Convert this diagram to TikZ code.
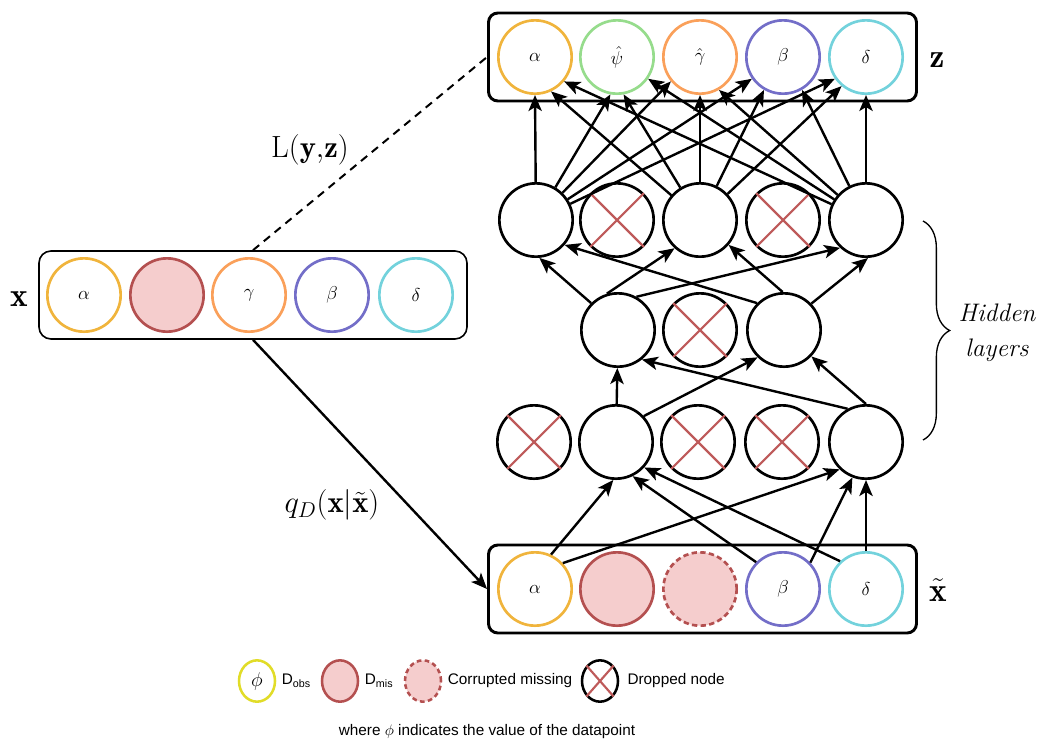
\RequirePackage{fix-cm}
\documentclass[tikz,border=0pt]{standalone}
\usepackage{amsmath, amssymb}
\usepackage{fontspec}
\newfontfamily\legendfont{Liberation Sans}
\usetikzlibrary{decorations.pathreplacing,positioning,arrows.meta,shapes.geometric}

\definecolor{colal}{RGB}{240,180,60}
\definecolor{colpsi}{RGB}{150,220,140}
\definecolor{colgam}{RGB}{250,160,90}
\definecolor{colbet}{RGB}{115,110,200}
\definecolor{coldel}{RGB}{115,210,220}
\definecolor{misred}{RGB}{180,80,80}
\definecolor{mispink}{RGB}{245,205,205}
\definecolor{crossred}{RGB}{190,90,90}
\definecolor{obsyel}{RGB}{225,220,40}

\tikzset{
  unit/.style={circle, draw, line width=2pt, minimum size=55pt, inner sep=0pt, font=\fontsize{14}{16}\selectfont},
  misunit/.style={unit, draw=misred, fill=mispink},
  corrunit/.style={misunit, dash pattern={on 4pt off 2.5pt}},
  rowbox/.style={draw, line width=2.2pt, rounded corners=7pt, minimum width=321pt, minimum height=66pt, inner sep=0pt},
  conn/.style={line width=1.8pt, -{Stealth[length=12pt,width=10pt,inset=3pt]}},
  cross/.style={draw=crossred, line width=1.6pt},
  legunit/.style={ellipse, line width=1.9pt, minimum width=27pt, minimum height=31pt, inner sep=0pt},
  legtext/.style={inner sep=0pt, font=\legendfont\fontsize{11.5}{14}\selectfont},
  biglabel/.style={font=\fontsize{25}{28}\selectfont},
}

\begin{document}
\begin{tikzpicture}[x=0.75pt,y=0.75pt,yscale=-1,xscale=1]
\useasboundingbox (0,0) rectangle (1042,744);

%Rows of the data
\node[rowbox] (zbox) at (702.5,57) {};
\node[rowbox, line width=1.2pt, rounded corners=9pt] (xbox) at (253,295) {};
\node[rowbox] (tbox) at (702.5,589) {};

%Output row
\node[unit, draw=colal] (zal) at (535,57) {$\alpha$};
\node[unit, draw=colpsi] (zpsi) at (617,57) {$\hat{\psi}$};
\node[unit, draw=colgam] (zgam) at (700,57) {$\hat{\gamma}$};
\node[unit, draw=colbet] (zbet) at (783,57) {$\beta$};
\node[unit, draw=coldel] (zdel) at (866,57) {$\delta$};

%Input row x
\node[unit, draw=colal] (xal) at (84,295) {$\alpha$};
\node[misunit] (xmis) at (167,295) {};
\node[unit, draw=colgam] (xgam) at (249,295) {$\gamma$};
\node[unit, draw=colbet] (xbet) at (332,295) {$\beta$};
\node[unit, draw=coldel] (xdel) at (416,295) {$\delta$};

%Corrupted row
\node[unit, draw=colal] (tal) at (535,589) {$\alpha$};
\node[misunit] (tmis) at (617,589) {};
\node[corrunit] (tcor) at (700,589) {};
\node[unit, draw=colbet] (tbet) at (783,589) {$\beta$};
\node[unit, draw=coldel] (tdel) at (866,589) {$\delta$};

%Hidden layers
\node[unit] (hc1) at (536,220) {};
\node[unit] (hc2) at (617,220) {};
\node[unit] (hc3) at (700,220) {};
\node[unit] (hc4) at (783,220) {};
\node[unit] (hc5) at (866,220) {};
\node[unit] (hb1) at (618,330) {};
\node[unit] (hb2) at (700,330) {};
\node[unit] (hb3) at (784,330) {};
\node[unit] (ha1) at (534,442) {};
\node[unit] (ha2) at (616,442) {};
\node[unit] (ha3) at (698,442) {};
\node[unit] (ha4) at (782,442) {};
\node[unit] (ha5) at (866,442) {};

%Dropped nodes
\draw[cross] (hc2.north west) -- (hc2.south east) (hc2.north east) -- (hc2.south west);
\draw[cross] (hc4.north west) -- (hc4.south east) (hc4.north east) -- (hc4.south west);
\draw[cross] (hb2.north west) -- (hb2.south east) (hb2.north east) -- (hb2.south west);
\draw[cross] (ha1.north west) -- (ha1.south east) (ha1.north east) -- (ha1.south west);
\draw[cross] (ha3.north west) -- (ha3.south east) (ha3.north east) -- (ha3.south west);
\draw[cross] (ha4.north west) -- (ha4.south east) (ha4.north east) -- (ha4.south west);

%Connections, input to first hidden layer
\draw[conn] (tal.65) -- (ha2.-94);
\draw[conn] (tal.43) -- (ha5.-134);
\draw[conn] (tbet.135) -- (ha2.-64);
\draw[conn] (tbet.44) -- (ha5.-111);
\draw[conn] (tdel.133) -- (ha2.-42);
\draw[conn] (tdel) -- (ha5);

\draw[conn] (ha2) -- (hb1);
\draw[conn] (ha2.43) -- (hb3.-134);
\draw[conn] (ha5.119) -- (hb1.-51);
\draw[conn] (ha5.90) -- (hb3.-44);

\draw[conn] (hb1.135) -- (hc1.-85);
\draw[conn] (hb1.107) -- (hc3.-132);
\draw[conn] (hb1.61) -- (hc5.-133);
\draw[conn] (hb3.135) -- (hc1.-41);
\draw[conn] (hb3.92) -- (hc3.-41);
\draw[conn] (hb3.44) -- (hc5.-87);

%Connections, last hidden layer to output
\draw[conn] (hc1) -- (zal.south);
\draw[conn] (hc1) -- (zpsi.-100);
\draw[conn] (hc1) -- (zgam.-140);
\draw[conn] (hc1) -- (zbet.-145);
\draw[conn] (hc1) -- (zdel.-145);
\draw[conn] (hc3) -- (zal.-65);
\draw[conn] (hc3) -- (zpsi.-80);
\draw[conn] (hc3) -- (zgam.south);
\draw[conn] (hc3) -- (zbet.-120);
\draw[conn] (hc3) -- (zdel.-130);
\draw[conn] (hc5) -- (zal.-40);
\draw[conn] (hc5) -- (zpsi.-35);
\draw[conn] (hc5) -- (zgam.-60);
\draw[conn] (hc5) -- (zbet.-60);
\draw[conn] (hc5) -- (zdel.south);

%Loss and corruption
\draw[line width=1.5pt, dash pattern={on 6pt off 4.5pt}] (xbox.north) -- (zbox.west);
\draw[conn] (xbox.south) -- (tbox.west);

% Text Node
\node[biglabel] (xlab) at (19,299) {$\mathbf{x}$};
% Text Node
\node[biglabel] (zlab) at (937,60) {$\mathbf{z}$};
% Text Node
\node[biglabel] (tlab) at (938,590) {$\tilde{\mathbf{x}}$};
% Text Node
\node[font=\fontsize{23}{26}\selectfont] (losslab) at (310,150) {$\mathrm{L}(\mathbf{y}{,}\mathbf{z})$};
% Text Node
\node[font=\fontsize{23}{26}\selectfont] (corrlab) at (332,505) {$q_D(\mathbf{x}|\tilde{\mathbf{x}})$};

%Brace
\draw[decorate, decoration={brace, amplitude=20pt}, line width=1pt] (923,221) -- (923,440);
\node[font=\itshape\fontsize{19}{26}\selectfont, align=center] (hidlab) at (997,333) {Hidden\\layers};

%Legend
\node[legunit, draw=obsyel, font=\fontsize{15}{17}\selectfont] (legobs) at (257,681) {$\phi$};
\node[legtext, right=4pt of legobs] (legobstxt) {D\textsubscript{obs}};
\node[legunit, draw=misred, fill=mispink] (legmis) at (340,681) {};
\node[legtext, right=4pt of legmis] (legmistxt) {D\textsubscript{mis}};
\node[legunit, draw=misred, fill=mispink, dash pattern={on 3.5pt off 2.5pt}] (legcor) at (423,681) {};
\node[legtext, right=4pt of legcor] (legcortxt) {Corrupted missing};
\node[legunit, draw] (legdrop) at (600,681) {};
\draw[cross] (legdrop.north west) -- (legdrop.south east) (legdrop.north east) -- (legdrop.south west);
\node[legtext, right=6pt of legdrop] (legdroptxt) {Dropped node};
\node[legtext] (foot) at (487,732) {where $\phi$ indicates the value of the datapoint};

\end{tikzpicture}
\end{document}
